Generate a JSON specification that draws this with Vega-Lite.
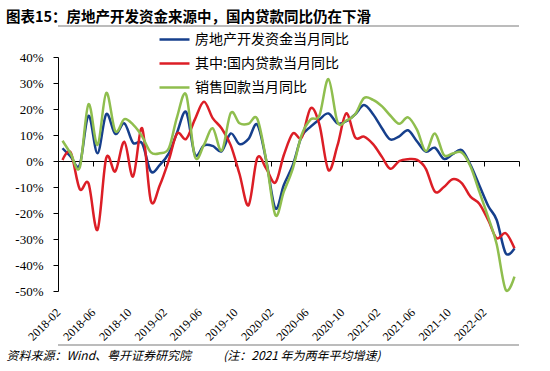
{
  "$schema": "https://vega.github.io/schema/vega-lite/v6.json",
  "autosize": {"type": "none"},
  "padding": {"left": 58, "top": 57, "right": 31, "bottom": 80},
  "width": 461,
  "height": 234,
  "background": "white",
  "config": {"view": {"stroke": null}},
  "title": {
    "text": "图表15：房地产开发资金来源中，国内贷款同比仍在下滑",
    "anchor": "start",
    "frame": "group",
    "dx": -52,
    "offset": -2,
    "font": "Noto Sans CJK SC",
    "fontSize": 14.5,
    "fontWeight": "bold",
    "color": "#000000"
  },
  "data": {"values": [
    {"date":"2018-02-01","series":"房地产开发资金当月同比","value":4.9},
    {"date":"2018-03-01","series":"房地产开发资金当月同比","value":1.7},
    {"date":"2018-04-01","series":"房地产开发资金当月同比","value":-1.5},
    {"date":"2018-05-01","series":"房地产开发资金当月同比","value":17.4},
    {"date":"2018-06-01","series":"房地产开发资金当月同比","value":3.0},
    {"date":"2018-07-01","series":"房地产开发资金当月同比","value":18.0},
    {"date":"2018-08-01","series":"房地产开发资金当月同比","value":10.4},
    {"date":"2018-09-01","series":"房地产开发资金当月同比","value":14.5},
    {"date":"2018-10-01","series":"房地产开发资金当月同比","value":7.0},
    {"date":"2018-11-01","series":"房地产开发资金当月同比","value":6.8},
    {"date":"2018-12-01","series":"房地产开发资金当月同比","value":-4.0},
    {"date":"2019-01-01","series":"房地产开发资金当月同比","value":-1.5},
    {"date":"2019-02-01","series":"房地产开发资金当月同比","value":3.0},
    {"date":"2019-03-01","series":"房地产开发资金当月同比","value":11.0},
    {"date":"2019-04-01","series":"房地产开发资金当月同比","value":18.8},
    {"date":"2019-05-01","series":"房地产开发资金当月同比","value":2.5},
    {"date":"2019-06-01","series":"房地产开发资金当月同比","value":6.0},
    {"date":"2019-07-01","series":"房地产开发资金当月同比","value":5.8},
    {"date":"2019-08-01","series":"房地产开发资金当月同比","value":3.8},
    {"date":"2019-09-01","series":"房地产开发资金当月同比","value":10.6},
    {"date":"2019-10-01","series":"房地产开发资金当月同比","value":6.5},
    {"date":"2019-11-01","series":"房地产开发资金当月同比","value":8.5},
    {"date":"2019-12-01","series":"房地产开发资金当月同比","value":14.0},
    {"date":"2020-01-01","series":"房地产开发资金当月同比","value":0.0},
    {"date":"2020-02-01","series":"房地产开发资金当月同比","value":-18.2},
    {"date":"2020-03-01","series":"房地产开发资金当月同比","value":-9.2},
    {"date":"2020-04-01","series":"房地产开发资金当月同比","value":-1.5},
    {"date":"2020-05-01","series":"房地产开发资金当月同比","value":9.4},
    {"date":"2020-06-01","series":"房地产开发资金当月同比","value":13.2},
    {"date":"2020-07-01","series":"房地产开发资金当月同比","value":16.0},
    {"date":"2020-08-01","series":"房地产开发资金当月同比","value":18.3},
    {"date":"2020-09-01","series":"房地产开发资金当月同比","value":14.5},
    {"date":"2020-10-01","series":"房地产开发资金当月同比","value":15.3},
    {"date":"2020-11-01","series":"房地产开发资金当月同比","value":18.0},
    {"date":"2020-12-01","series":"房地产开发资金当月同比","value":21.5},
    {"date":"2021-01-01","series":"房地产开发资金当月同比","value":18.0},
    {"date":"2021-02-01","series":"房地产开发资金当月同比","value":12.5},
    {"date":"2021-03-01","series":"房地产开发资金当月同比","value":8.3},
    {"date":"2021-04-01","series":"房地产开发资金当月同比","value":9.5},
    {"date":"2021-05-01","series":"房地产开发资金当月同比","value":11.8},
    {"date":"2021-06-01","series":"房地产开发资金当月同比","value":7.5},
    {"date":"2021-07-01","series":"房地产开发资金当月同比","value":3.6},
    {"date":"2021-08-01","series":"房地产开发资金当月同比","value":5.1},
    {"date":"2021-09-01","series":"房地产开发资金当月同比","value":0.8},
    {"date":"2021-10-01","series":"房地产开发资金当月同比","value":2.6},
    {"date":"2021-11-01","series":"房地产开发资金当月同比","value":4.2},
    {"date":"2021-12-01","series":"房地产开发资金当月同比","value":-1.5},
    {"date":"2022-01-01","series":"房地产开发资金当月同比","value":-9.5},
    {"date":"2022-02-01","series":"房地产开发资金当月同比","value":-17.5},
    {"date":"2022-03-01","series":"房地产开发资金当月同比","value":-22.7},
    {"date":"2022-04-01","series":"房地产开发资金当月同比","value":-35.5},
    {"date":"2022-05-01","series":"房地产开发资金当月同比","value":-33.6},
    {"date":"2018-02-01","series":"其中:国内贷款当月同比","value":0.4},
    {"date":"2018-03-01","series":"其中:国内贷款当月同比","value":3.3},
    {"date":"2018-04-01","series":"其中:国内贷款当月同比","value":-10.8},
    {"date":"2018-05-01","series":"其中:国内贷款当月同比","value":-8.6},
    {"date":"2018-06-01","series":"其中:国内贷款当月同比","value":-26.5},
    {"date":"2018-07-01","series":"其中:国内贷款当月同比","value":1.2},
    {"date":"2018-08-01","series":"其中:国内贷款当月同比","value":-4.0},
    {"date":"2018-09-01","series":"其中:国内贷款当月同比","value":7.4},
    {"date":"2018-10-01","series":"其中:国内贷款当月同比","value":-6.0},
    {"date":"2018-11-01","series":"其中:国内贷款当月同比","value":12.6},
    {"date":"2018-12-01","series":"其中:国内贷款当月同比","value":-15.3},
    {"date":"2019-01-01","series":"其中:国内贷款当月同比","value":-9.2},
    {"date":"2019-02-01","series":"其中:国内贷款当月同比","value":0.5},
    {"date":"2019-03-01","series":"其中:国内贷款当月同比","value":10.6},
    {"date":"2019-04-01","series":"其中:国内贷款当月同比","value":8.5},
    {"date":"2019-05-01","series":"其中:国内贷款当月同比","value":16.0},
    {"date":"2019-06-01","series":"其中:国内贷款当月同比","value":22.8},
    {"date":"2019-07-01","series":"其中:国内贷款当月同比","value":16.5},
    {"date":"2019-08-01","series":"其中:国内贷款当月同比","value":12.5},
    {"date":"2019-09-01","series":"其中:国内贷款当月同比","value":6.0},
    {"date":"2019-10-01","series":"其中:国内贷款当月同比","value":-5.0},
    {"date":"2019-11-01","series":"其中:国内贷款当月同比","value":-17.0},
    {"date":"2019-12-01","series":"其中:国内贷款当月同比","value":1.2},
    {"date":"2020-01-01","series":"其中:国内贷款当月同比","value":-3.0},
    {"date":"2020-02-01","series":"其中:国内贷款当月同比","value":-8.3},
    {"date":"2020-03-01","series":"其中:国内贷款当月同比","value":2.3},
    {"date":"2020-04-01","series":"其中:国内贷款当月同比","value":10.6},
    {"date":"2020-05-01","series":"其中:国内贷款当月同比","value":9.0},
    {"date":"2020-06-01","series":"其中:国内贷款当月同比","value":20.3},
    {"date":"2020-07-01","series":"其中:国内贷款当月同比","value":14.0},
    {"date":"2020-08-01","series":"其中:国内贷款当月同比","value":-3.5},
    {"date":"2020-09-01","series":"其中:国内贷款当月同比","value":6.0},
    {"date":"2020-10-01","series":"其中:国内贷款当月同比","value":18.3},
    {"date":"2020-11-01","series":"其中:国内贷款当月同比","value":9.0},
    {"date":"2020-12-01","series":"其中:国内贷款当月同比","value":9.4},
    {"date":"2021-01-01","series":"其中:国内贷款当月同比","value":6.5},
    {"date":"2021-02-01","series":"其中:国内贷款当月同比","value":1.5},
    {"date":"2021-03-01","series":"其中:国内贷款当月同比","value":-3.0},
    {"date":"2021-04-01","series":"其中:国内贷款当月同比","value":0.0},
    {"date":"2021-05-01","series":"其中:国内贷款当月同比","value":0.7},
    {"date":"2021-06-01","series":"其中:国内贷款当月同比","value":0.4},
    {"date":"2021-07-01","series":"其中:国内贷款当月同比","value":-3.0},
    {"date":"2021-08-01","series":"其中:国内贷款当月同比","value":-11.8},
    {"date":"2021-09-01","series":"其中:国内贷款当月同比","value":-10.0},
    {"date":"2021-10-01","series":"其中:国内贷款当月同比","value":-7.0},
    {"date":"2021-11-01","series":"其中:国内贷款当月同比","value":-8.5},
    {"date":"2021-12-01","series":"其中:国内贷款当月同比","value":-13.7},
    {"date":"2022-01-01","series":"其中:国内贷款当月同比","value":-16.5},
    {"date":"2022-02-01","series":"其中:国内贷款当月同比","value":-23.0},
    {"date":"2022-03-01","series":"其中:国内贷款当月同比","value":-29.7},
    {"date":"2022-04-01","series":"其中:国内贷款当月同比","value":-27.8},
    {"date":"2022-05-01","series":"其中:国内贷款当月同比","value":-33.6},
    {"date":"2018-02-01","series":"销售回款当月同比","value":7.8},
    {"date":"2018-03-01","series":"销售回款当月同比","value":2.9},
    {"date":"2018-04-01","series":"销售回款当月同比","value":-2.5},
    {"date":"2018-05-01","series":"销售回款当月同比","value":21.8},
    {"date":"2018-06-01","series":"销售回款当月同比","value":6.2},
    {"date":"2018-07-01","series":"销售回款当月同比","value":26.2},
    {"date":"2018-08-01","series":"销售回款当月同比","value":11.5},
    {"date":"2018-09-01","series":"销售回款当月同比","value":16.1},
    {"date":"2018-10-01","series":"销售回款当月同比","value":14.0},
    {"date":"2018-11-01","series":"销售回款当月同比","value":9.5},
    {"date":"2018-12-01","series":"销售回款当月同比","value":3.3},
    {"date":"2019-01-01","series":"销售回款当月同比","value":3.0},
    {"date":"2019-02-01","series":"销售回款当月同比","value":5.0},
    {"date":"2019-03-01","series":"销售回款当月同比","value":17.0},
    {"date":"2019-04-01","series":"销售回款当月同比","value":25.5},
    {"date":"2019-05-01","series":"销售回款当月同比","value":1.7},
    {"date":"2019-06-01","series":"销售回款当月同比","value":6.2},
    {"date":"2019-07-01","series":"销售回款当月同比","value":12.6},
    {"date":"2019-08-01","series":"销售回款当月同比","value":4.0},
    {"date":"2019-09-01","series":"销售回款当月同比","value":18.5},
    {"date":"2019-10-01","series":"销售回款当月同比","value":14.5},
    {"date":"2019-11-01","series":"销售回款当月同比","value":14.3},
    {"date":"2019-12-01","series":"销售回款当月同比","value":16.2},
    {"date":"2020-01-01","series":"销售回款当月同比","value":0.0},
    {"date":"2020-02-01","series":"销售回款当月同比","value":-20.8},
    {"date":"2020-03-01","series":"销售回款当月同比","value":-11.8},
    {"date":"2020-04-01","series":"销售回款当月同比","value":-2.8},
    {"date":"2020-05-01","series":"销售回款当月同比","value":10.0},
    {"date":"2020-06-01","series":"销售回款当月同比","value":16.0},
    {"date":"2020-07-01","series":"销售回款当月同比","value":17.5},
    {"date":"2020-08-01","series":"销售回款当月同比","value":31.5},
    {"date":"2020-09-01","series":"销售回款当月同比","value":15.0},
    {"date":"2020-10-01","series":"销售回款当月同比","value":15.5},
    {"date":"2020-11-01","series":"销售回款当月同比","value":18.0},
    {"date":"2020-12-01","series":"销售回款当月同比","value":24.2},
    {"date":"2021-01-01","series":"销售回款当月同比","value":23.5},
    {"date":"2021-02-01","series":"销售回款当月同比","value":21.0},
    {"date":"2021-03-01","series":"销售回款当月同比","value":17.5},
    {"date":"2021-04-01","series":"销售回款当月同比","value":14.3},
    {"date":"2021-05-01","series":"销售回款当月同比","value":16.8},
    {"date":"2021-06-01","series":"销售回款当月同比","value":12.0},
    {"date":"2021-07-01","series":"销售回款当月同比","value":3.8},
    {"date":"2021-08-01","series":"销售回款当月同比","value":10.6},
    {"date":"2021-09-01","series":"销售回款当月同比","value":2.3},
    {"date":"2021-10-01","series":"销售回款当月同比","value":2.9},
    {"date":"2021-11-01","series":"销售回款当月同比","value":3.3},
    {"date":"2021-12-01","series":"销售回款当月同比","value":-2.0},
    {"date":"2022-01-01","series":"销售回款当月同比","value":-12.0},
    {"date":"2022-02-01","series":"销售回款当月同比","value":-22.0},
    {"date":"2022-03-01","series":"销售回款当月同比","value":-32.0},
    {"date":"2022-04-01","series":"销售回款当月同比","value":-49.6},
    {"date":"2022-05-01","series":"销售回款当月同比","value":-44.5}
  ]},
  "layer": [
    {
      "mark": {"type": "line", "interpolate": "cardinal", "strokeWidth": 2.5},
      "encoding": {
        "x": {
          "field": "date",
          "type": "temporal",
          "scale": {
            "type": "utc",
            "domain": [
              {"year": 2018, "month": 1, "date": 16, "hours": 12, "utc": true},
              {"year": 2022, "month": 5, "date": 16, "hours": 12, "utc": true}
            ]
          },
          "axis": {
            "orient": "bottom",
            "offset": -130,
            "tickCount": 40,
            "values": [
              {"year": 2018, "month": 1, "date": 16, "hours": 12, "utc": true},
              {"year": 2018, "month": 5, "date": 16, "hours": 12, "utc": true},
              {"year": 2018, "month": 9, "date": 16, "hours": 12, "utc": true},
              {"year": 2019, "month": 1, "date": 16, "hours": 12, "utc": true},
              {"year": 2019, "month": 5, "date": 16, "hours": 12, "utc": true},
              {"year": 2019, "month": 9, "date": 16, "hours": 12, "utc": true},
              {"year": 2020, "month": 1, "date": 16, "hours": 12, "utc": true},
              {"year": 2020, "month": 5, "date": 16, "hours": 12, "utc": true},
              {"year": 2020, "month": 9, "date": 16, "hours": 12, "utc": true},
              {"year": 2021, "month": 1, "date": 16, "hours": 12, "utc": true},
              {"year": 2021, "month": 5, "date": 16, "hours": 12, "utc": true},
              {"year": 2021, "month": 9, "date": 16, "hours": 12, "utc": true},
              {"year": 2022, "month": 1, "date": 16, "hours": 12, "utc": true},
              {"year": 2022, "month": 5, "date": 16, "hours": 12, "utc": true}
            ],
            "labelExpr": "datum.value > utc(2022, 2, 1) ? '' : utcFormat(datum.value + 1382400000, '%Y-%m')",
            "labelAngle": -45,
            "labelAlign": "right",
            "labelBaseline": "middle",
            "labelFont": "Liberation Serif",
            "labelFontSize": 12,
            "labelColor": "#000000",
            "labelPadding": 144,
            "labelOffset": 0,
            "labelOverlap": false,
            "labelFlush": false,
            "labelBound": false,
            "tickSize": 5,
            "tickColor": "#000000",
            "tickWidth": 1,
            "domainColor": "#000000",
            "domainWidth": 1,
            "grid": false,
            "title": "资料来源：Wind、粤开证券研究院\u3000\u3000\u00a0\u00a0\u00a0(注：2021 年为两年平均增速)",
            "titleX": -52,
            "titleY": 198,
            "titleAnchor": "start",
            "titleAlign": "left",
            "titleBaseline": "alphabetic",
            "titleFont": "Noto Sans CJK SC",
            "titleFontSize": 12,
            "titleFontStyle": "italic",
            "titleFontWeight": "normal",
            "titleColor": "#000000"
          }
        },
        "y": {
          "field": "value",
          "type": "quantitative",
          "scale": {"domain": [-50, 40], "nice": false, "zero": false},
          "axis": {
            "values": [-50, -40, -30, -20, -10, 0, 10, 20, 30, 40],
            "tickCount": 40,
            "labelOverlap": false,
            "labelExpr": "datum.value + '%'",
            "labelFont": "Liberation Serif",
            "labelFontSize": 13,
            "labelColor": "#000000",
            "labelPadding": 10,
            "tickSize": 5,
            "tickColor": "#000000",
            "domainColor": "#000000",
            "grid": false,
            "title": null
          }
        },
        "color": {
          "field": "series",
          "type": "nominal",
          "scale": {
            "domain": ["房地产开发资金当月同比", "其中:国内贷款当月同比", "销售回款当月同比"],
            "range": ["#163f8c", "#dc1e26", "#8fbe4e"]
          },
          "legend": {
            "orient": "none",
            "legendX": 100,
            "legendY": -34,
            "title": null,
            "padding": 0,
            "symbolType": "stroke",
            "symbolSize": 900,
            "symbolStrokeWidth": 2.5,
            "labelFont": "Noto Sans CJK SC",
            "labelFontSize": 14,
            "labelColor": "#000000",
            "labelOffset": 4,
            "labelLimit": 0,
            "rowPadding": -7
          }
        }
      }
    },
    {
      "data": {"values": [{"line": "a"}]},
      "mark": {"type": "rule", "stroke": "#a6a6a6", "strokeWidth": 1.5},
      "encoding": {
        "y": {"datum": 51.9}
      }
    },
    {
      "data": {"values": [{"line": "b"}]},
      "mark": {"type": "rule", "stroke": "#a6a6a6", "strokeWidth": 1.5},
      "encoding": {
        "y": {"datum": -70.8}
      }
    }
  ]
}
